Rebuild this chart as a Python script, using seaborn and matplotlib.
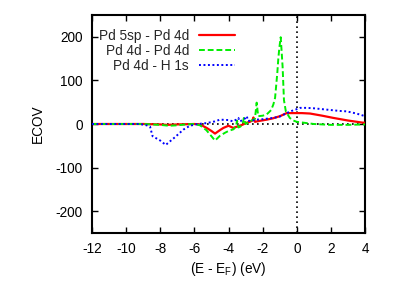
import matplotlib
matplotlib.use("Agg")
import matplotlib.pyplot as plt
import seaborn as sns
import numpy as np
import pandas as pd

sns.set_theme(style="white")
plt.rcParams['font.family'] = ['Liberation Sans', 'DejaVu Sans']

labels = ["Pd 5sp - Pd 4d", "Pd 4d - Pd 4d", "Pd 4d - H 1s"]

e_red = [-12, -9, -8, -7.6, -7, -6, -5.67, -5.28, -5.0, -4.79, -4.5, -4.3, -4.0, -3.72,
         -3.42, -3.2, -2.93, -2.75, -2.6, -2.54, -2.45, -2.2, -1.76, -1.4, -0.98, -0.59,
         0.0, 0.3, 0.78, 1.5, 2.14, 3.0, 3.88, 4.0]
v_red = [0, 0, -1, -2, -1, 0, -1, -9, -16, -22, -14, -9, -4, -9,
         -5, -2, 3, 5, 8, 15, 5, 7, 10, 13, 18, 25,
         25, 25, 24, 19, 14, 8, 3, 3]

e_green = [-12, -9, -8, -7.5, -7, -6.5, -6, -5.67, -5.3, -5.0, -4.79, -4.5, -4.2, -4.0,
           -3.7, -3.55, -3.5, -3.42, -3.3, -3.15, -3.1, -3.0, -2.74, -2.45, -2.35, -2.26,
           -2.0, -1.76, -1.5, -1.37, -1.27, -1.14, -1.08, -1.02, -0.94, -0.83, -0.75, -0.64,
           -0.41, -0.2, 0.0, 0.6, 1.0, 2.0, 3.0, 4.0]
v_green = [0, 0, -2, -4, -3, -1, 0, -3, -14, -28, -38, -27, -20, -16,
           -12, -4, 8, -8, -6, 4, 14, 0, 6, 12, 49, 18,
           19, 22, 32, 45, 60, 117, 150, 175, 199, 132, 55, 29,
           14, 8, 5, 2, 0, -2, -2, -1]

e_blue = [-12, -9.2, -8.8, -8.6, -8.45, -8.0, -7.68, -7.13, -6.65, -6.26, -5.8, -5.3,
          -4.8, -4.5, -4.0, -3.73, -3.55, -3.42, -3.35, -3.15, -3.05, -2.93, -2.85, -2.6,
          -2.35, -2.0, -1.37, -1.0, -0.59, -0.3, 0.0, 0.19, 0.6, 1.0, 1.5, 2.0, 2.5, 2.93,
          3.5, 4.0]
v_blue = [0, 0, -3, -6, -28, -38, -48, -30, -13, -4, 0, 2,
          6, 10, 9, 6, 10, 14, 6, 9, 12, 18, 7, 8,
          10, 11, 14, 17, 25, 30, 34, 37, 37, 36, 34, 32, 30, 29,
          24, 18]

xticks = [-12, -10, -8, -6, -4, -2, 0, 2, 4]
yticks = [-200, -100, 0, 100, 200]

df = pd.concat([
    pd.DataFrame({"E": e_red, "v": v_red, "s": labels[0]}),
    pd.DataFrame({"E": e_green, "v": v_green, "s": labels[1]}),
    pd.DataFrame({"E": e_blue, "v": v_blue, "s": labels[2]}),
])

fig = plt.figure(figsize=(4.15, 2.90), dpi=100)
ax = fig.add_axes([92/415, 1-233/290, (365-92)/415, (233-15)/290])

fs = 9.8
ax.axvline(0, color="black", lw=1.2, ls=(0, (1.0, 2.0)), zorder=1)
ax.axhline(0, color="black", lw=1.2, ls=(0, (1.0, 2.0)), zorder=1)

colors = ["#ff0000", "#00ee00", "#0000ff"]
styles = ["-", (0, (3, 1.5)), (0, (1, 1.3))]
widths = [1.6, 1.4, 1.4]
for lab, c, st, w in zip(labels, colors, styles, widths):
    sub = df[df["s"] == lab]
    sns.lineplot(data=sub, x="E", y="v", ax=ax, color=c, lw=w, sort=False,
                 estimator=None, label=lab, zorder=3)
    ax.lines[-1].set_linestyle(st)

ax.set_xlim(-12, 4)
ax.set_ylim(-250, 250)
ax.set_xticks(xticks)
ax.set_yticks(yticks)
ax.set_xticklabels([str(t) for t in xticks], fontsize=fs)
ax.set_yticklabels([str(t) for t in yticks], fontsize=fs)
ax.tick_params(direction="in", length=4.5, width=1.0, top=True, right=True,
               bottom=True, left=True, pad=6.5, colors="black")
for sp in ax.spines.values():
    sp.set_visible(True)
    sp.set_color("black")
    sp.set_linewidth(1.5)
ax.set_xlabel(r"(E - E$_\mathregular{F}$) (eV)", fontsize=fs, labelpad=3, color="black")
ax.set_ylabel("ECOV", fontsize=fs, labelpad=8, color="black")

leg = ax.legend(loc="upper right", bbox_to_anchor=(0.535, 0.95), frameon=False,
                markerfirst=False, fontsize=fs, handlelength=2.7, handletextpad=0.7,
                labelspacing=0.08, borderpad=0.2, borderaxespad=0)
for line, st in zip(leg.get_lines(), styles):
    line.set_linestyle(st)

fig.savefig("out.png", dpi=100)
